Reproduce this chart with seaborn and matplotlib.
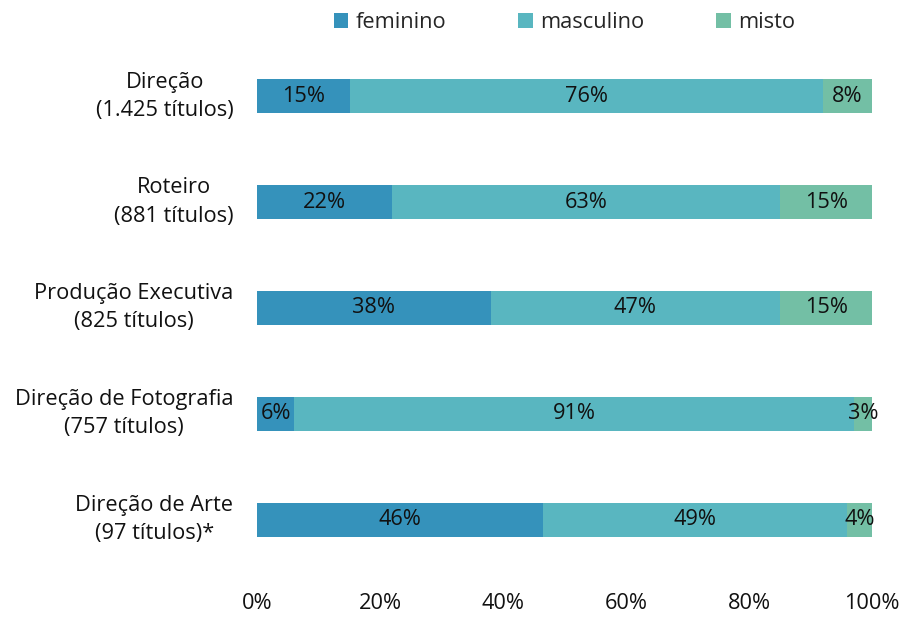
import pandas as pd
import matplotlib.pyplot as plt
import seaborn as sns

# dados
funcoes = ['Direção\n(1.425 títulos)', 'Roteiro\n(881 títulos)', 'Produção Executiva\n(825 títulos)',
           'Direção de Fotografia\n(757 títulos)', 'Direção de Arte\n(97 títulos)*']
feminino = [15, 22, 38, 6, 46]
masculino = [76, 63, 47, 91, 49]
misto = [8, 15, 15, 3, 4]

cores = {'feminino': '#3592bb', 'masculino': '#59b6c0', 'misto': '#73bfa5'}
fs = 15.7

df = pd.DataFrame({'funcao': funcoes, 'feminino': feminino, 'masculino': masculino, 'misto': misto})
total = df[['feminino', 'masculino', 'misto']].sum(axis=1)
for c in ['feminino', 'masculino', 'misto']:
    df[c + '_n'] = df[c] / total * 100
df['cum_fem'] = df['feminino_n']
df['cum_masc'] = df['feminino_n'] + df['masculino_n']
df['cum_misto'] = df['cum_masc'] + df['misto_n']

sns.set_theme(style='white')
plt.rcParams['font.family'] = ['Open Sans', 'DejaVu Sans']

fig, ax = plt.subplots(figsize=(9.02, 6.17), dpi=100)
fig.subplots_adjust(left=0.285, right=0.967, top=0.930, bottom=0.072)

# barras empilhadas (desenhadas de trás pra frente)
sns.barplot(data=df, y='funcao', x='cum_misto', color=cores['misto'], width=0.32,
            orient='h', ax=ax, saturation=1, label='misto', linewidth=0)
sns.barplot(data=df, y='funcao', x='cum_masc', color=cores['masculino'], width=0.32,
            orient='h', ax=ax, saturation=1, label='masculino', linewidth=0)
sns.barplot(data=df, y='funcao', x='cum_fem', color=cores['feminino'], width=0.32,
            orient='h', ax=ax, saturation=1, label='feminino', linewidth=0)

# rótulos dentro das barras
for i, row in df.iterrows():
    ax.text(row['cum_fem'] / 2, i, f"{row['feminino']}%", ha='center', va='center', fontsize=fs, color='#111111')
    ax.text(row['cum_fem'] + row['masculino_n'] / 2, i, f"{row['masculino']}%", ha='center', va='center', fontsize=fs, color='#111111')
    ax.text(row['cum_masc'] + row['misto_n'] / 2, i, f"{row['misto']}%", ha='center', va='center', fontsize=fs, color='#111111')

ax.set_xlim(0, 100)
ax.set_ylim(4.5, -0.5)
ax.set_xticks([0, 20, 40, 60, 80, 100])
ax.set_xticklabels([f'{v}%' for v in [0, 20, 40, 60, 80, 100]])
ax.set_xlabel('')
ax.set_ylabel('')
ax.tick_params(axis='x', labelsize=fs, pad=15, length=0, colors='#111111')
ax.tick_params(axis='y', labelsize=fs, pad=17, length=0, colors='#111111')
for lbl in ax.get_yticklabels():
    lbl.set_multialignment('center')
    lbl.set_linespacing(1.45)
    lbl.set_verticalalignment('center')
sns.despine(ax=ax, left=True, bottom=True)

handles, labels = ax.get_legend_handles_labels()
ordem = ['feminino', 'masculino', 'misto']
hmap = dict(zip(labels, handles))
ax.legend([hmap[k] for k in ordem], ordem, loc='lower center', bbox_to_anchor=(0.5, 1.0),
          ncol=3, frameon=False, fontsize=fs, handlelength=0.65, handleheight=0.65,
          handletextpad=0.35, columnspacing=3.3, borderaxespad=0.05)

plt.savefig('out.png', dpi=100)
